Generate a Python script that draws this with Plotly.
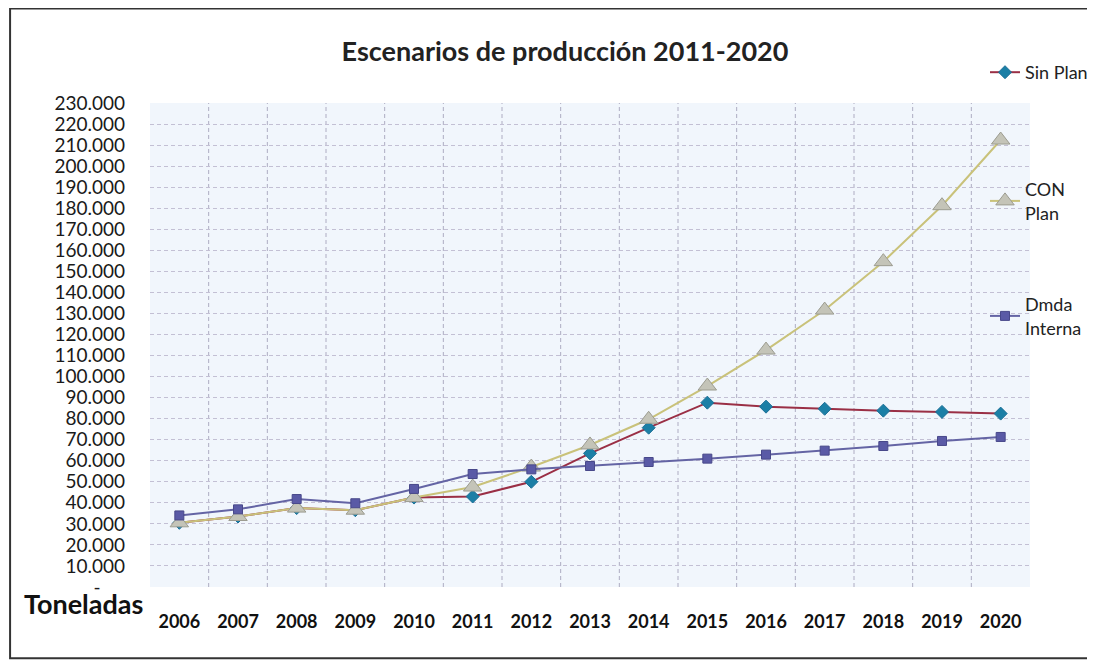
import plotly.graph_objects as go

# datos (toneladas)
years = ["2006", "2007", "2008", "2009", "2010", "2011", "2012", "2013",
         "2014", "2015", "2016", "2017", "2018", "2019", "2020"]

sin_plan = [30500, 33500, 37500, 36500, 42500, 43000, 50000, 63500,
            75700, 87600, 85700, 84700, 83800, 83200, 82400]

con_plan = [30500, 33500, 37500, 36500, 42500, 47500, 57000, 67500,
            79700, 95500, 112600, 131600, 154600, 181200, 212400]

dmda_interna = [34000, 36900, 41800, 39800, 46600, 53700, 55900, 57500,
                59400, 61000, 62900, 64800, 67000, 69400, 71300]

y_ticks = list(range(0, 240000, 10000))
y_tick_text = ["-" + "\u00a0" * 5] + [f"{v // 1000}.000" for v in y_ticks[1:]]

FONT = "Lato"
W, H = 1087, 658  # la pagina tiene 8px de margen

fig = go.Figure()

fig.add_trace(
    go.Scatter(
        x=years,
        y=sin_plan,
        name="Sin Plan",
        mode="lines+markers",
        line=dict(color="#9a2f45", width=2),
        marker=dict(symbol="diamond", size=10, color="#1b7fa6",
                    line=dict(color="#1b6f96", width=1)),
        legend="legend"
    )
)

fig.add_trace(
    go.Scatter(
        x=years,
        y=con_plan,
        name="CON<br>Plan",
        mode="lines+markers",
        line=dict(color="#c9c27a", width=2),
        marker=dict(symbol="triangle-up", size=16, color="#c4c4b8",
                    line=dict(color="#9c9c90", width=1)),
        legend="legend2"
    )
)

fig.add_trace(
    go.Scatter(
        x=years,
        y=dmda_interna,
        name="Dmda<br>Interna",
        mode="lines+markers",
        line=dict(color="#6464a4", width=2),
        marker=dict(symbol="square", size=9, color="#5a5aa6",
                    line=dict(color="#48488a", width=1)),
        legend="legend3"
    )
)

legend_style = dict(
    xref="container",
    yref="container",
    x=977 / W,
    xanchor="left",
    yanchor="top",
    bgcolor="rgba(0,0,0,0)",
    font=dict(family=FONT, size=18, color="#222222"),
    itemwidth=30,
)

fig.update_layout(
    width=W,
    height=H,
    showlegend=True,
    paper_bgcolor="white",
    plot_bgcolor="#f1f6fc",
    margin=dict(l=142, r=65, t=95, b=79, autoexpand=False),
    font=dict(family=FONT, color="#1a1a1a"),
    title=dict(
        text="<b>Escenarios de producción 2011-2020</b>",
        x=557 / W,
        xanchor="center",
        xref="container",
        y=1 - 44 / H,
        yanchor="middle",
        font=dict(family=FONT, size=27, color="#222222")
    ),
    legend=dict(legend_style, y=1 - 46 / H),
    legend2=dict(legend_style, y=1 - 163 / H),
    legend3=dict(legend_style, y=1 - 278 / H),
    annotations=[
        dict(
            text="<b>Toneladas</b>",
            x=-0.146,
            y=-0.035,
            xref="paper",
            yref="paper",
            xanchor="left",
            yanchor="middle",
            showarrow=False,
            font=dict(family=FONT, size=27, color="#111111")
        )
    ],
    shapes=[
        dict(
            type="rect",
            xref="paper",
            yref="paper",
            x0=-0.159,
            x1=1.069,
            y0=-0.147,
            y1=1.195,
            line=dict(color="#333333", width=2),
            fillcolor="rgba(0,0,0,0)",
            layer="below"
        )
    ]
)

fig.update_xaxes(
    type="category",
    range=[-0.5, 14.5],
    showgrid=False,
    zeroline=False,
    showline=False,
    ticks="",
    tickfont=dict(family=FONT, size=18, color="#111111", weight="bold"),
    ticklabelstandoff=22
)

# lineas verticales entre categorias (tick "between" como en Excel)
for i in range(1, len(years)):
    fig.add_vline(x=i - 0.5, line=dict(color="#aeacc2", width=1, dash="4px,3px"),
                  layer="below")

fig.update_yaxes(
    range=[0, 230000],
    tickvals=y_ticks,
    ticktext=y_tick_text,
    gridcolor="#c3c0d4",
    griddash="4px,3px",
    gridwidth=1,
    zeroline=False,
    showline=False,
    tickfont=dict(family=FONT, size=19, color="#1a1a1a"),
    ticklabelstandoff=24
)

fig.write_html("out.html")
